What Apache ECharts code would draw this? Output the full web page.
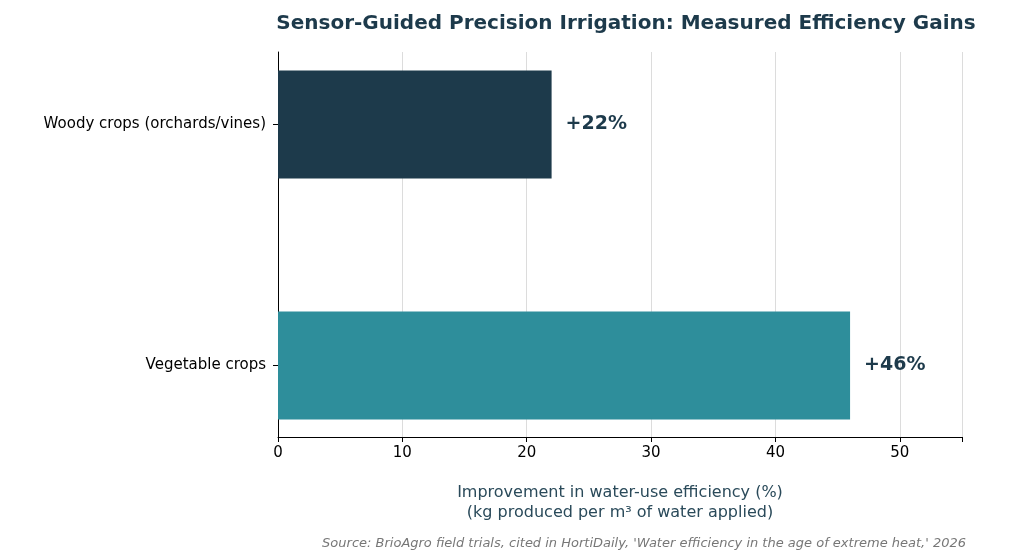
<!DOCTYPE html>
<html><head><meta charset="utf-8">
<script src="https://cdn.jsdelivr.net/npm/echarts@6/dist/echarts.min.js"></script>
<style>html,body{margin:0;padding:0;background:#fff}#c{width:1024px;height:560px}</style>
</head><body><div id="c"></div>
<script>
var crops = ['Woody crops (orchards/vines)', 'Vegetable crops'];
var gains = [22, 46];
var barColors = ['#1d3a4b', '#2e8e9b'];
var xTicks = [0, 10, 20, 30, 40, 50];
var F = 'DejaVu Sans';

var chart = echarts.init(document.getElementById('c'));
chart.setOption({
    textStyle: {fontFamily: F},
    title: [{
        text: 'Sensor-Guided Precision Irrigation: Measured Efficiency Gains',
        left: 621, top: 9, textAlign: 'center',
        textStyle: {fontSize: 20, fontWeight: 'bold', color: '#1d3a4b', fontFamily: F}
    }, {
        text: "Source: BrioAgro field trials, cited in HortiDaily, 'Water efficiency in the age of extreme heat,' 2026",
        right: 53, top: 532,
        textStyle: {fontSize: 13, fontStyle: 'italic', fontWeight: 'normal', color: '#777', fontFamily: F}
    }],
    grid: [
        {left: 278, right: 62, top: 52, bottom: 123},
        {left: 278, right: 62, top: 4, bottom: 74}
    ],
    xAxis: [{
        gridIndex: 0, type: 'value', min: 0, max: 55, interval: 10,
        name: 'Improvement in water-use efficiency (%)\n(kg produced per m³ of water applied)',
        nameLocation: 'middle', nameGap: 46,
        nameTextStyle: {fontSize: 16, color: '#2a4a5a', lineHeight: 20, fontFamily: F},
        axisLine: {show: true, lineStyle: {color: '#000'}},
        axisTick: {show: true, length: 5, lineStyle: {color: '#000'}},
        axisLabel: {fontSize: 15, color: '#000', margin: 9, fontFamily: F,
            formatter: function (v) { return xTicks.indexOf(v) >= 0 ? v : ''; }},
        splitLine: {show: true, lineStyle: {color: '#dcdcdc'}}
    }, {
        gridIndex: 1, type: 'value', min: 0, max: 55, show: false
    }],
    yAxis: [{
        gridIndex: 0, type: 'value', min: 0, max: 1,
        axisLine: {show: true, lineStyle: {color: '#000'}},
        axisTick: {show: false}, axisLabel: {show: false}, splitLine: {show: false}
    }, {
        gridIndex: 1, type: 'category', data: crops, inverse: true,
        axisLine: {show: false},
        axisTick: {show: true, alignWithLabel: true, length: 5, lineStyle: {color: '#000'}},
        axisLabel: {fontSize: 15, color: '#000', margin: 12, fontFamily: F}
    }],
    series: [{
        type: 'bar', xAxisIndex: 1, yAxisIndex: 1, barWidth: 108,
        data: gains.map(function (v, i) { return {value: v, itemStyle: {color: barColors[i]}}; }),
        label: {show: true, position: 'right', distance: 14, formatter: '+{c}%',
            fontSize: 19, fontWeight: 'bold', color: '#1d3a4b', fontFamily: F}
    }]
});
</script></body></html>
